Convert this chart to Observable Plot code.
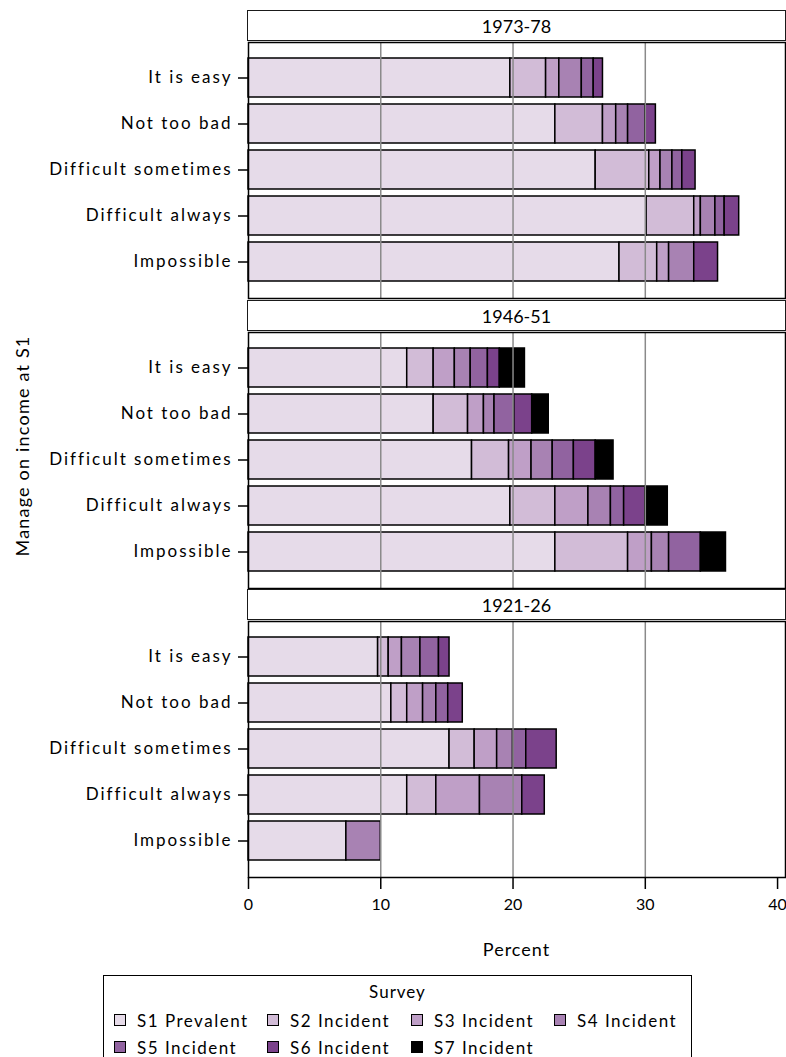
<!DOCTYPE html>
<html>
<head>
<meta charset="utf-8">
<script src="https://cdn.jsdelivr.net/npm/d3@7"></script>
<script src="https://cdn.jsdelivr.net/npm/@observablehq/plot@0.6"></script>
<style>
  html, body { margin: 0; padding: 0; background: #fff; }
  body { font-family: Lato, "Open Sans", sans-serif; color: #000; }
  #chart { position: relative; width: 786px; height: 1057px; overflow: hidden; background: #fff; }
  .abs { position: absolute; }
  .strip { position: absolute; box-sizing: border-box; border: 1.5px solid #1a1a1a; background: #fff;
           display: flex; align-items: center; justify-content: center; font-size: 18px; }
  svg [aria-label="y-axis tick label"] text { letter-spacing: 2px; }
  .legend { position: absolute; box-sizing: border-box; border: 1.5px solid #000; background: #fff; }
  .legend .item { position: absolute; display: flex; align-items: center; font-size: 17px; letter-spacing: 1.5px; white-space: nowrap; }
  .legend .sw { width: 10px; height: 10px; border: 1.5px solid #000; margin-right: 11px; }
</style>
</head>
<body>
<div id="chart"></div>
<script>
// ---------- data ----------
const periods = ["1973-78", "1946-51", "1921-26"];
const categories = ["It is easy", "Not too bad", "Difficult sometimes", "Difficult always", "Impossible"];
const surveys = ["S1 Prevalent", "S2 Incident", "S3 Incident", "S4 Incident", "S5 Incident", "S6 Incident", "S7 Incident"];
const surveyColors = ["#e6dbe9", "#d2bcd7", "#bf9fc7", "#a882b3", "#9163a0", "#7b428b", "#000000"];
const xTicks = [0, 10, 20, 30, 40];
const gridLines = [10, 20, 30];

// values per category (rows) and survey (columns S1..S7), percent
const values1973 = [
  [19.8, 2.7, 1.0, 1.7, 0.9, 0.7, 0],
  [23.2, 3.6, 1.0, 0.9, 1.3, 0.8, 0],
  [26.25, 4.05, 0.85, 0.9, 0.75, 1.0, 0],
  [30.1, 3.6, 0.5, 1.1, 0.7, 1.1, 0],
  [28.05, 2.85, 0.9, 1.9, 0, 1.8, 0]
];
const values1946 = [
  [12.0, 2.0, 1.6, 1.2, 1.3, 0.9, 1.9],
  [14.0, 2.6, 1.2, 0.8, 1.5, 1.35, 1.25],
  [16.9, 2.8, 1.7, 1.6, 1.6, 1.65, 1.35],
  [19.8, 3.4, 2.5, 1.7, 1.0, 1.6, 1.7],
  [23.2, 5.5, 1.8, 1.3, 2.4, 0, 1.9]
];
const values1921 = [
  [9.8, 0.8, 1.0, 1.4, 1.4, 0.8, 0],
  [10.8, 1.2, 1.2, 1.0, 0.9, 1.1, 0],
  [15.2, 1.9, 1.7, 1.2, 1.0, 2.3, 0],
  [12.0, 2.2, 3.3, 3.2, 0, 1.7, 0],
  [7.4, 0, 0, 2.6, 0, 0, 0]
];
const valuesByPeriod = [values1973, values1946, values1921];

// ---------- layout ----------
const W = 786;
const mLeft = 248, mRight = 1;
const stripTops = [10, 300, 589], stripH = 31;
const panelTops = [42, 332, 621], panelH = 256;
const xDomain = [0, 40.6];

const chart = document.getElementById("chart");

function rowsFor(vals, period) {
  const out = [];
  vals.forEach((row, i) => row.forEach((v, j) => {
    if (v > 0) out.push({period, category: categories[i], survey: surveys[j], value: v});
  }));
  return out;
}

periods.forEach((p, k) => {
  const last = k === periods.length - 1;
  const data = rowsFor(valuesByPeriod[k], p);
  const marginBottom = last ? 42 : 1;
  const svg = Plot.plot({
    width: W,
    height: panelH + 1 + marginBottom,
    marginTop: 1,
    marginBottom,
    marginLeft: mLeft,
    marginRight: mRight,
    style: {fontFamily: "Lato, 'Open Sans', sans-serif", color: "#000", background: "transparent", overflow: "visible"},
    x: {domain: xDomain},
    y: {domain: categories, paddingInner: 0.15, paddingOuter: 0.33},
    color: {domain: surveys, range: surveyColors},
    marks: [
      Plot.barX(data, Plot.stackX({x: "value", y: "category", fill: "survey", order: null,
        stroke: "#000", strokeWidth: 1.5})),
      Plot.ruleX(gridLines, {stroke: "#8a8a8a", strokeWidth: 1.5}),
      Plot.frame({stroke: "#000", strokeWidth: 1.5}),
      Plot.axisY({tickSize: 10, tickPadding: 6, fontSize: 17, label: null, strokeWidth: 1.5}),
      last
        ? Plot.axisX({ticks: xTicks, tickSize: 12, tickPadding: 9, fontSize: 16, label: null, strokeWidth: 1.5})
        : Plot.axisX({ticks: [], label: null})
    ]
  });
  svg.classList.add("abs");
  svg.style.left = "0px";
  svg.style.top = (panelTops[k] - 1) + "px";
  chart.appendChild(svg);

  const strip = document.createElement("div");
  strip.className = "strip";
  strip.style.left = (mLeft - 1) + "px";
  strip.style.top = stripTops[k] + "px";
  strip.style.width = (W - mLeft - mRight + 2) + "px";
  strip.style.height = stripH + "px";
  strip.textContent = p;
  chart.appendChild(strip);
});

// x axis title
const xt = document.createElement("div");
xt.className = "abs";
xt.textContent = "Percent";
Object.assign(xt.style, {left: mLeft + "px", width: (W - mLeft - mRight) + "px", top: "938px",
  textAlign: "center", fontSize: "18px", letterSpacing: "1px", lineHeight: "22px"});
chart.appendChild(xt);

// y axis title
const yt = document.createElement("div");
yt.className = "abs";
yt.textContent = "Manage on income at S1";
Object.assign(yt.style, {left: "22px", top: "446px", transform: "translate(-50%, -50%) rotate(-90deg)",
  whiteSpace: "nowrap", fontSize: "18px", letterSpacing: "1.2px", lineHeight: "22px"});
chart.appendChild(yt);

// legend
const legend = document.createElement("div");
legend.className = "legend";
Object.assign(legend.style, {left: "103px", top: "975px", width: "589px", height: "100px"});
const lt = document.createElement("div");
lt.className = "abs";
lt.textContent = "Survey";
Object.assign(lt.style, {left: "0", width: "100%", top: "5px", textAlign: "center", fontSize: "17px", letterSpacing: "1px", lineHeight: "22px"});
legend.appendChild(lt);
const colLefts = [10, 163, 307, 450];
const rowTops = [33, 60];
surveys.forEach((s, i) => {
  const it = document.createElement("div");
  it.className = "item";
  it.style.left = colLefts[i % 4] + "px";
  it.style.top = rowTops[Math.floor(i / 4)] + "px";
  it.style.height = "22px";
  const sw = document.createElement("span");
  sw.className = "sw";
  sw.style.background = surveyColors[i];
  const tx = document.createElement("span");
  tx.textContent = s;
  it.appendChild(sw);
  it.appendChild(tx);
  legend.appendChild(it);
});
chart.appendChild(legend);
</script>
</body>
</html>
